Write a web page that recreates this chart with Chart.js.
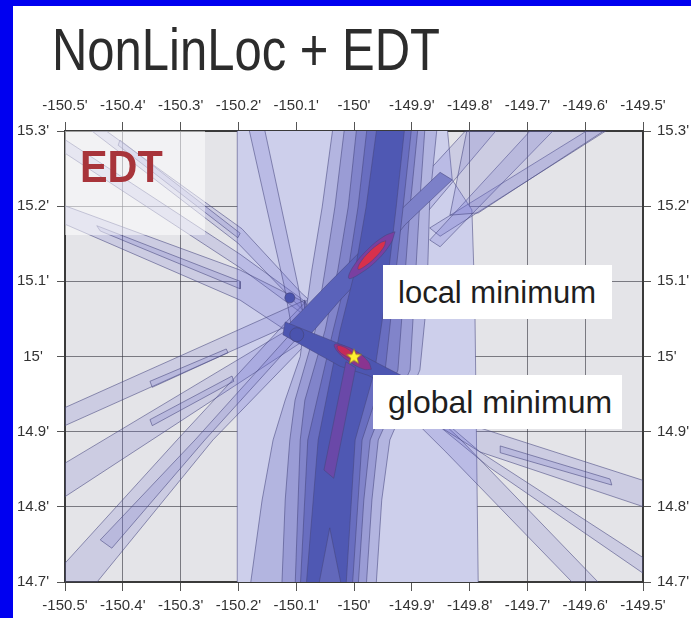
<!DOCTYPE html>
<html>
<head>
<meta charset="utf-8">
<script src="https://cdn.jsdelivr.net/npm/chart.js@4.4.1/dist/chart.umd.min.js"></script>
<style>
html, body { margin: 0; padding: 0; background: #fff; }
#wrap { position: relative; width: 691px; height: 618px; overflow: hidden; background: #fff; }
#map { position: absolute; left: 0; top: 0; }
.blue { position: absolute; background: #0000f0; }
.title { position: absolute; left: 52px; top: 21px; font: 58.6px/58.6px "Liberation Sans", Arial, sans-serif; color: #2c2c2c; transform: scaleX(0.836); transform-origin: left top; white-space: nowrap; }
.haze { position: absolute; left: 65px; top: 131px; width: 140px; height: 104px; background: rgba(255,255,255,0.5); }
.edt { position: absolute; left: 80px; top: 145px; font: bold 44px/44px "Liberation Sans", Arial, sans-serif; color: #a8343a; transform: scaleX(0.94); transform-origin: left top; }
.box { position: absolute; background: #fff; }
.box span { position: absolute; left: 15px; white-space: nowrap; font-family: "Liberation Sans", Arial, sans-serif; color: #1e1e1e; }
</style>
</head>
<body>
<div id="wrap">
  <canvas id="map" width="691" height="618"></canvas>
  <div class="blue" style="left:0;top:0;width:13px;height:618px"></div>
  <div class="blue" style="left:0;top:0;width:691px;height:6px"></div>
  <div class="title">NonLinLoc + EDT</div>
  <div class="haze"></div>
  <div class="edt">EDT</div>
  <div class="box" style="left:383px;top:265px;width:229px;height:54px"><span style="top:12px;font-size:31px;line-height:31px">local minimum</span></div>
  <div class="box" style="left:373px;top:375px;width:249px;height:54px"><span style="top:11px;font-size:32px;line-height:32px">global minimum</span></div>
</div>
<script>
// axes
const xTicks = [-150.5, -150.4, -150.3, -150.2, -150.1, -150, -149.9, -149.8, -149.7, -149.6, -149.5];
const xTickLabels = ["-150.5'", "-150.4'", "-150.3'", "-150.2'", "-150.1'", "-150'", "-149.9'", "-149.8'", "-149.7'", "-149.6'", "-149.5'"];
const yTicks = [14.7, 14.8, 14.9, 15, 15.1, 15.2, 15.3];
const yTickLabels = ["14.7'", "14.8'", "14.9'", "15'", "15.1'", "15.2'", "15.3'"];

// misfit contours, [lon, lat] outlines
// main N-S trough, lightest to darkest level
const trunkL1 = [[-150.202,15.307],[-149.839,15.307],[-149.830,15.235],[-149.796,15.195],[-149.791,15.075],[-149.785,14.692],[-150.202,14.692]];
const trunkL2 = [[-150.036,15.307],[-149.856,15.307],[-149.869,15.208],[-149.874,15.075],[-149.886,14.982],[-149.938,14.889],[-149.952,14.809],[-149.962,14.692],
                 [-150.180,14.692],[-150.159,14.809],[-150.140,14.889],[-150.119,14.942],[-150.093,15.000],[-150.085,15.049],[-150.073,15.115],[-150.055,15.199]];
const trunkL3 = [[-150.016,15.307],[-149.877,15.307],[-149.886,15.208],[-149.896,15.075],[-149.903,14.982],[-149.958,14.889],[-149.969,14.809],[-149.979,14.692],
                 [-150.125,14.692],[-150.119,14.809],[-150.111,14.889],[-150.102,14.942],[-150.067,15.035],[-150.050,15.115],[-150.033,15.199]];
const trunkL4 = [[-149.995,15.307],[-149.889,15.307],[-149.903,15.199],[-149.915,15.075],[-149.924,14.982],[-149.972,14.889],[-149.983,14.809],[-149.993,14.692],
                 [-150.102,14.692],[-150.093,14.889],[-150.085,14.942],[-150.050,15.035],[-150.028,15.115],[-150.010,15.199]];
const trunkL5 = [[-149.977,15.307],[-149.900,15.307],[-149.915,15.199],[-149.933,15.075],[-149.946,14.982],[-149.986,14.889],[-150.003,14.692],
                 [-150.093,14.692],[-150.080,14.889],[-150.036,15.035],[-150.010,15.115],[-149.993,15.199]];
const trunkL6 = [[-149.960,15.307],[-149.912,15.307],[-149.927,15.199],[-149.946,15.075],[-149.964,14.982],[-149.998,14.889],[-150.014,14.692],
                 [-150.083,14.692],[-150.062,14.889],[-150.024,15.035],[-149.998,15.115],[-149.979,15.199]];
const trunkNotch = [[-150.062,14.692],[-150.042,14.772],[-150.021,14.692]];
const purpleCore = [[-150.014,14.993],[-149.997,14.985],[-150.035,14.838],[-150.052,14.849]];

// single-station bands crossing the map
const bandA = [[-150.509,15.293],[-150.197,15.136],[-150.093,15.078],[-149.782,14.873],[-149.491,14.728],
               [-149.491,14.707],[-149.765,14.852],[-150.093,15.059],[-150.197,15.118],[-150.509,15.275]];
const bandB = [[-150.443,15.308],[-150.194,15.170],[-150.093,15.086],[-149.820,14.893],[-149.564,14.689],
               [-149.609,14.689],[-149.841,14.873],[-150.093,15.065],[-150.201,15.151],[-150.467,15.308]];
const bandC = [[-150.509,15.203],[-150.197,15.115],[-150.093,15.075],[-150.002,15.025],[-149.782,14.905],[-149.491,14.833],
               [-149.491,14.798],[-149.782,14.873],[-150.002,14.979],[-150.093,15.022],[-150.197,15.075],[-150.509,15.179]];
const bandDWest = [[-150.509,14.929],[-150.085,15.075],[-150.085,15.051],[-150.509,14.905]];
const bandDEast = [[-149.869,15.171],[-149.583,15.307],[-149.550,15.307],[-149.851,15.160]];
const bandEWest = [[-150.509,14.854],[-150.085,15.049],[-150.085,15.022],[-150.509,14.809]];
const bandEEast = [[-149.869,15.155],[-149.687,15.307],[-149.647,15.307],[-149.851,15.146]];
const bandG = [[-150.526,14.703],[-150.306,14.889],[-150.111,15.051],[-149.981,15.155],[-149.799,15.307],
               [-149.747,15.307],[-149.946,15.126],[-150.085,15.015],[-150.244,14.889],[-150.453,14.692]];
const bandI = [[-150.183,15.307],[-150.156,15.307],[-150.097,15.095],[-150.083,15.035],[-150.107,15.035],[-150.121,15.095]];
const wedgeNE = [[-149.834,15.188],[-149.803,15.307],[-149.554,15.307],[-149.785,15.191]];

// band cores
const coreCWest = [[-150.445,15.174],[-150.197,15.100],[-150.197,15.090],[-150.439,15.167]];
const coreCEast = [[-149.747,14.881],[-149.557,14.837],[-149.554,14.829],[-149.747,14.872]];
const coreB = [[-150.405,15.288],[-150.197,15.164],[-150.201,15.158],[-150.408,15.281]];
const coreG = [[-150.439,14.756],[-150.275,14.889],[-150.111,15.029],[-150.093,15.029],[-150.258,14.889],[-150.419,14.745]];
const coreD = [[-150.353,14.967],[-150.221,15.010],[-150.218,15.005],[-150.349,14.959]];
const coreE = [[-150.353,14.916],[-150.211,14.974],[-150.208,14.967],[-150.349,14.908]];

// crossing bands inside the trough
const darkNE = [[-150.114,15.042],[-150.042,15.099],[-149.981,15.146],[-149.955,15.131],[-150.024,15.075],[-150.087,15.019]];
const midNE = [[-149.972,15.152],[-149.929,15.188],[-149.851,15.245],[-149.830,15.235],[-149.912,15.175],[-149.946,15.142]];
const darkNW = [[-150.119,15.046],[-150.016,15.014],[-149.969,14.995],[-149.843,14.945],
                [-149.851,14.929],[-149.976,14.975],[-150.024,14.987],[-150.123,15.029]];

// minima
const localMinOuter = [[-149.929,15.166],[-149.936,15.151],[-149.960,15.128],[-149.990,15.110],[-150.009,15.104],[-150.002,15.119],[-149.977,15.142],[-149.948,15.160]];
const localMinInner = [[-149.945,15.154],[-149.948,15.146],[-149.964,15.131],[-149.983,15.119],[-149.993,15.116],[-149.990,15.124],[-149.974,15.139],[-149.955,15.151]];
const globalMinOuter = [[-149.970,14.983],[-149.983,14.983],[-150.008,14.993],[-150.028,15.006],[-150.034,15.016],[-150.020,15.015],[-149.996,15.007],[-149.975,14.993]];
const globalMinInner = [[-149.995,14.995],[-150.002,14.996],[-150.016,15.001],[-150.027,15.008],[-150.029,15.014],[-150.022,15.014],[-150.009,15.009],[-149.998,15.001]];
const knots = [[-150.099,15.029],[-150.111,15.078]];
const knotSize = [7, 5];
const bestLocation = [[-150.0, 15.0]];

const edgeColor = 'rgba(70,70,125,0.7)';
const bandFill = 'rgba(110,110,205,0.2)';

function poly(pts, fill, smooth) {
    const data = pts.map(p => ({x: p[0], y: p[1]}));
    data.push({x: pts[0][0], y: pts[0][1]});
    return {
        data: data,
        showLine: true,
        fill: 'shape',
        backgroundColor: fill,
        borderColor: edgeColor,
        borderWidth: 0.8,
        pointRadius: 0,
        tension: smooth ? 0.4 : 0
    };
}

// yellow star marker
const starImg = document.createElement('canvas');
starImg.width = 18;
starImg.height = 18;
(function () {
    const c = starImg.getContext('2d');
    c.beginPath();
    for (let i = 0; i < 10; i++) {
        const r = i % 2 === 0 ? 8 : 3.4;
        const a = -Math.PI / 2 + i * Math.PI / 5;
        c.lineTo(9 + r * Math.cos(a), 9.5 + r * Math.sin(a));
    }
    c.closePath();
    c.fillStyle = '#fff030';
    c.fill();
    c.strokeStyle = '#8a7a20';
    c.lineWidth = 0.7;
    c.stroke();
})();

// bottom layer first
const layers = [
    poly(trunkL1, '#cdcfeb'),
    poly(bandA, bandFill),
    poly(bandB, bandFill),
    poly(bandC, bandFill),
    poly(bandDWest, bandFill),
    poly(bandDEast, bandFill),
    poly(bandEWest, bandFill),
    poly(bandEEast, bandFill),
    poly(bandG, bandFill),
    poly(bandI, bandFill),
    poly(wedgeNE, bandFill),
    poly(coreCWest, bandFill),
    poly(coreCEast, bandFill),
    poly(coreB, bandFill),
    poly(coreG, bandFill),
    poly(coreD, bandFill),
    poly(coreE, bandFill),
    poly(trunkL2, '#b3b5e0'),
    poly(trunkL3, '#9a9cd5'),
    poly(trunkL4, '#8184ca'),
    poly(midNE, '#7c80c8'),
    poly(trunkL5, '#696ec0'),
    poly(darkNE, '#5a62ba'),
    poly(trunkL6, '#4f58b3'),
    poly(trunkNotch, '#6268bb'),
    poly(darkNW, '#4d56b1'),
    poly(purpleCore, '#6a48a8'),
    poly(localMinOuter, '#7a3fa0', true),
    poly(localMinInner, '#d8304c', true),
    poly(globalMinOuter, '#8a3490', true),
    poly(globalMinInner, '#c52a58', true),
    {
        data: knots.map(p => ({x: p[0], y: p[1]})),
        showLine: false,
        pointRadius: knotSize,
        backgroundColor: '#4a53ae',
        borderColor: edgeColor,
        borderWidth: 1
    },
    {
        data: bestLocation.map(p => ({x: p[0], y: p[1]})),
        showLine: false,
        pointStyle: starImg,
        pointRadius: 9
    }
];
layers.forEach((d, i) => { d.order = layers.length - i; });

const plotBg = {
    id: 'plotBg',
    beforeDraw(chart) {
        const {ctx, chartArea} = chart;
        ctx.save();
        ctx.fillStyle = '#e4e4e8';
        ctx.fillRect(chartArea.left, chartArea.top, chartArea.right - chartArea.left, chartArea.bottom - chartArea.top);
        ctx.restore();
    }
};

const tickFont = {family: 'Liberation Sans', size: 15};

function xAxis(position, size, pad, grid) {
    return {
        type: 'linear',
        position: position,
        min: -150.5,
        max: -149.5,
        z: 1,
        afterBuildTicks: s => { s.ticks = xTicks.map(v => ({value: v})); },
        afterFit: s => { s.height = size; },
        ticks: {
            callback: (v, i) => xTickLabels[i],
            color: '#333',
            font: tickFont,
            padding: pad,
            autoSkip: false,
            maxRotation: 0,
            minRotation: 0
        },
        grid: {
            color: 'rgba(50,50,60,0.6)',
            lineWidth: 1,
            tickLength: 9,
            tickColor: '#555',
            drawOnChartArea: grid
        },
        border: {color: '#3a3a3a', width: 2}
    };
}

function yAxis(position, size, pad, align, grid) {
    return {
        type: 'linear',
        position: position,
        min: 14.7,
        max: 15.3,
        z: 1,
        afterBuildTicks: s => { s.ticks = yTicks.map(v => ({value: v})); },
        afterFit: s => { s.width = size; },
        ticks: {
            callback: (v, i) => yTickLabels[i],
            color: '#333',
            font: tickFont,
            padding: pad,
            crossAlign: align,
            autoSkip: false
        },
        grid: {
            color: 'rgba(50,50,60,0.6)',
            lineWidth: 1,
            tickLength: 8,
            tickColor: '#555',
            drawOnChartArea: grid
        },
        border: {color: '#3a3a3a', width: 2}
    };
}

new Chart(document.getElementById('map').getContext('2d'), {
    type: 'scatter',
    data: {datasets: layers},
    options: {
        responsive: false,
        animation: false,
        events: [],
        layout: {padding: 0},
        plugins: {
            legend: {display: false},
            tooltip: {enabled: false}
        },
        scales: {
            x: xAxis('bottom', 36, 6, true),
            x2: xAxis('top', 131, 7, false),
            y: yAxis('left', 65, 8, 'center', true),
            y2: yAxis('right', 48, 6, 'near', false)
        }
    },
    plugins: [plotBg]
});
</script>
</body>
</html>
